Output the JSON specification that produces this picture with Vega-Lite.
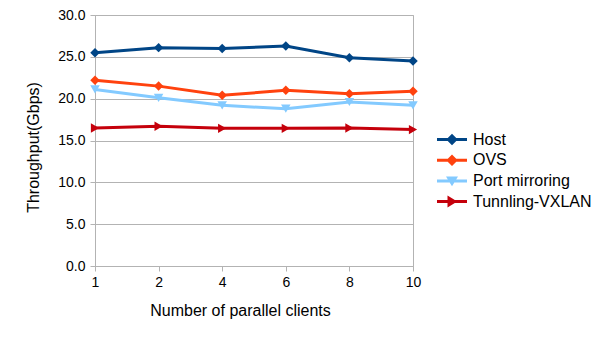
{
  "$schema": "https://vega.github.io/schema/vega-lite/v6.json",
  "width": 318,
  "height": 251,
  "autosize": {"type": "none"},
  "padding": {"left": 95, "top": 15, "right": 192, "bottom": 74},
  "background": "white",
  "config": {
    "font": "Liberation Sans",
    "view": {"stroke": "#b3b3b3", "strokeWidth": 1},
    "axis": {"labelFont": "Liberation Sans", "titleFont": "Liberation Sans", "labelColor": "#000000", "titleColor": "#000000", "titleFontWeight": "normal", "domainColor": "#b3b3b3", "tickColor": "#b3b3b3", "gridColor": "#b3b3b3"}
  },
  "data": {
    "values": [
      {"clients": "1", "series": "Host", "value": 25.5},
      {"clients": "2", "series": "Host", "value": 26.1},
      {"clients": "4", "series": "Host", "value": 26.0},
      {"clients": "6", "series": "Host", "value": 26.3},
      {"clients": "8", "series": "Host", "value": 24.9},
      {"clients": "10", "series": "Host", "value": 24.5},
      {"clients": "1", "series": "OVS", "value": 22.2},
      {"clients": "2", "series": "OVS", "value": 21.5},
      {"clients": "4", "series": "OVS", "value": 20.4},
      {"clients": "6", "series": "OVS", "value": 21.0},
      {"clients": "8", "series": "OVS", "value": 20.6},
      {"clients": "10", "series": "OVS", "value": 20.9},
      {"clients": "1", "series": "Port mirroring", "value": 21.1},
      {"clients": "2", "series": "Port mirroring", "value": 20.1},
      {"clients": "4", "series": "Port mirroring", "value": 19.2},
      {"clients": "6", "series": "Port mirroring", "value": 18.8},
      {"clients": "8", "series": "Port mirroring", "value": 19.6},
      {"clients": "10", "series": "Port mirroring", "value": 19.2},
      {"clients": "1", "series": "Tunnling-VXLAN", "value": 16.5},
      {"clients": "2", "series": "Tunnling-VXLAN", "value": 16.7},
      {"clients": "4", "series": "Tunnling-VXLAN", "value": 16.45},
      {"clients": "6", "series": "Tunnling-VXLAN", "value": 16.45},
      {"clients": "8", "series": "Tunnling-VXLAN", "value": 16.5},
      {"clients": "10", "series": "Tunnling-VXLAN", "value": 16.3}
    ]
  },
  "encoding": {
    "x": {
      "field": "clients", "type": "ordinal", "sort": ["1", "2", "4", "6", "8", "10"],
      "scale": {"type": "point", "padding": 0},
      "axis": {"title": "Number of parallel clients", "labelAngle": 0, "labelFontSize": 14, "titleFontSize": 16, "tickSize": 5, "labelPadding": 4, "grid": false, "titleX": 145, "titleAlign": "center", "titleY": 44, "titleBaseline": "middle"}
    },
    "y": {
      "field": "value", "type": "quantitative",
      "scale": {"domain": [0, 30], "nice": false, "zero": true},
      "axis": {"title": "Throughput(Gbps)", "values": [0, 5, 10, 15, 20, 25, 30], "format": ".1f", "labelFontSize": 14, "titleFontSize": 16, "tickSize": 5, "labelPadding": 5, "grid": true, "titleX": -62, "titleY": 132, "titleAlign": "center", "titleBaseline": "middle", "titleAngle": -90}
    },
    "color": {
      "field": "series", "type": "nominal",
      "scale": {"domain": ["Host", "OVS", "Port mirroring", "Tunnling-VXLAN"], "range": ["#004586", "#ff420e", "#83caff", "#c5000b"]},
      "legend": {
        "title": null, "orient": "none", "legendX": 349, "legendY": 116.5,
        "labelFont": "Liberation Sans", "labelFontSize": 16, "labelColor": "#000000",
        "symbolSize": 100, "labelOffset": 13, "rowPadding": 4.7,
        "encode": {
          "symbols": {
            "update": {
              "shape": {"signal": "datum.value === 'Port mirroring' ? 'M-3,-0.3H3V0.3H-3ZM-1.2,-0.9L1.2,-0.9L0,1.05Z' : datum.value === 'Tunnling-VXLAN' ? 'M-3,-0.3H3V0.3H-3ZM-0.9,-1.2L1.05,0L-0.9,1.2Z' : 'M-3,-0.3H3V0.3H-3ZM0,-1.15L1.15,0L0,1.15L-1.15,0Z'"},
              "fill": {"signal": "scale('color', datum.value)"},
              "stroke": {"value": "transparent"},
              "strokeWidth": {"value": 0},
              "opacity": {"value": 1}
            }
          }
        }
      }
    }
  },
  "layer": [
    {"mark": {"type": "line", "strokeWidth": 3}},
    {
      "transform": [{"filter": "datum.series === 'Host' || datum.series === 'OVS'"}],
      "mark": {"type": "point", "filled": true, "opacity": 1, "size": 90, "shape": "diamond"}
    },
    {
      "transform": [{"filter": "datum.series === 'Port mirroring'"}],
      "mark": {"type": "point", "filled": true, "opacity": 1, "size": 90, "shape": "triangle-down"}
    },
    {
      "transform": [{"filter": "datum.series === 'Tunnling-VXLAN'"}],
      "mark": {"type": "point", "filled": true, "opacity": 1, "size": 90, "shape": "triangle-right"}
    }
  ]
}
